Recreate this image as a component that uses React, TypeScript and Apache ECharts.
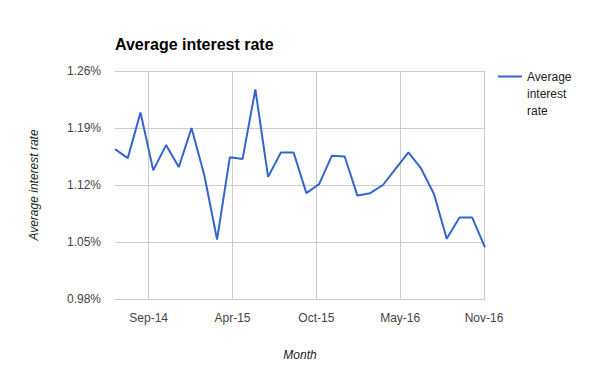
import React, { useEffect, useRef } from 'react';
import * as echarts from 'echarts';

const months = [
  'Jul-14', 'Aug-14', 'Sep-14', 'Oct-14', 'Nov-14', 'Dec-14',
  'Jan-15', 'Feb-15', 'Mar-15', 'Apr-15', 'May-15', 'Jun-15',
  'Jul-15', 'Aug-15', 'Sep-15', 'Oct-15', 'Nov-15', 'Dec-15',
  'Jan-16', 'Feb-16', 'Mar-16', 'Apr-16', 'May-16', 'Jun-16',
  'Jul-16', 'Aug-16', 'Sep-16', 'Oct-16', 'Nov-16', 'Dec-16',
];

// Average interest rate in percent
const rates = [
  1.164, 1.153, 1.209, 1.138, 1.169, 1.142,
  1.190, 1.132, 1.053, 1.154, 1.152, 1.2375,
  1.130, 1.160, 1.160, 1.110, 1.121, 1.156,
  1.155, 1.107, 1.110, 1.120, 1.140, 1.160,
  1.140, 1.109, 1.054, 1.080, 1.080, 1.0435,
];

// positions of the x tick marks (in month-index units) and their labels
const xTickPositions = [2.64, 9.21, 15.78, 22.35, 28.92];
const xTickLabels = ['Sep-14', 'Apr-15', 'Oct-15', 'May-16', 'Nov-16'];

// y ticks in percent
const yMin = 0.98;
const yMax = 1.26;
const yStep = 0.07;

export default function App() {
  const ref = useRef<HTMLDivElement>(null);

  useEffect(() => {
    if (!ref.current) return;
    const chart = echarts.init(ref.current, null, { renderer: 'svg' });
    const font = 'Arial, "Liberation Sans", sans-serif';
    chart.setOption({
      animation: false,
      backgroundColor: '#ffffff',
      textStyle: { fontFamily: font },
      title: {
        text: 'Average interest rate',
        left: 115,
        top: 36,
        padding: 0,
        textStyle: { fontFamily: font, fontSize: 16, fontWeight: 'bold', color: '#000000' },
      },
      legend: {
        left: 498,
        top: 68,
        padding: 0,
        icon: 'path://M0,0h24v2h-24z M0,35.99h0.01v0.01h-0.01z',
        symbolKeepAspect: false,
        itemWidth: 24,
        itemHeight: 36,
        itemGap: 5,
        orient: 'vertical',
        textStyle: {
          fontFamily: font,
          fontSize: 12,
          color: '#222222',
          width: 60,
          overflow: 'break',
          lineHeight: 17,
        },
        data: [{ name: 'Average interest rate', itemStyle: { color: '#3366cc' } }],
      },
      grid: { left: 115, right: 115, top: 71, bottom: 72, containLabel: false },
      xAxis: {
        type: 'value',
        min: 0,
        max: months.length - 1,
        name: 'Month',
        nameLocation: 'middle',
        nameGap: 50,
        nameTextStyle: { fontFamily: font, fontSize: 12, fontStyle: 'italic', color: '#222222' },
        axisLine: { show: true, lineStyle: { color: '#cccccc', width: 1 } },
        axisTick: { show: false, customValues: xTickPositions },
        splitLine: { show: true, lineStyle: { color: '#cccccc', width: 1 } },
        axisLabel: {
          customValues: xTickPositions,
          margin: 13,
          fontFamily: font,
          fontSize: 12,
          color: '#444444',
          formatter: (v: number) => {
            let best = 0;
            for (let i = 0; i < xTickPositions.length; i++) {
              if (Math.abs(xTickPositions[i] - v) < Math.abs(xTickPositions[best] - v)) best = i;
            }
            return xTickLabels[best];
          },
        },
      },
      yAxis: {
        type: 'value',
        min: Math.round(yMin * 100),
        max: Math.round(yMax * 100),
        interval: Math.round(yStep * 100),
        name: 'Average interest rate',
        nameLocation: 'middle',
        nameGap: 75,
        nameTextStyle: { fontFamily: font, fontSize: 12, fontStyle: 'italic', color: '#222222' },
        axisLine: { show: false },
        axisTick: { show: false },
        splitLine: { show: true, lineStyle: { color: '#cccccc', width: 1 } },
        axisLabel: {
          margin: 14,
          fontFamily: font,
          fontSize: 12,
          color: '#444444',
          formatter: (v: number) => (v / 100).toFixed(2) + '%',
        },
      },
      series: [
        {
          name: 'Average interest rate',
          type: 'line',
          data: rates.map((r, i) => [i, Math.round(r * 100000) / 1000]),
          showSymbol: false,
          symbol: 'none',
          lineStyle: { color: '#3366cc', width: 2 },
          itemStyle: { color: '#3366cc' },
        },
      ],
    });
    return () => chart.dispose();
  }, []);

  return (
    <div
      ref={ref}
      style={{ position: 'fixed', left: 0, top: 0, width: 600, height: 371 }}
    />
  );
}
